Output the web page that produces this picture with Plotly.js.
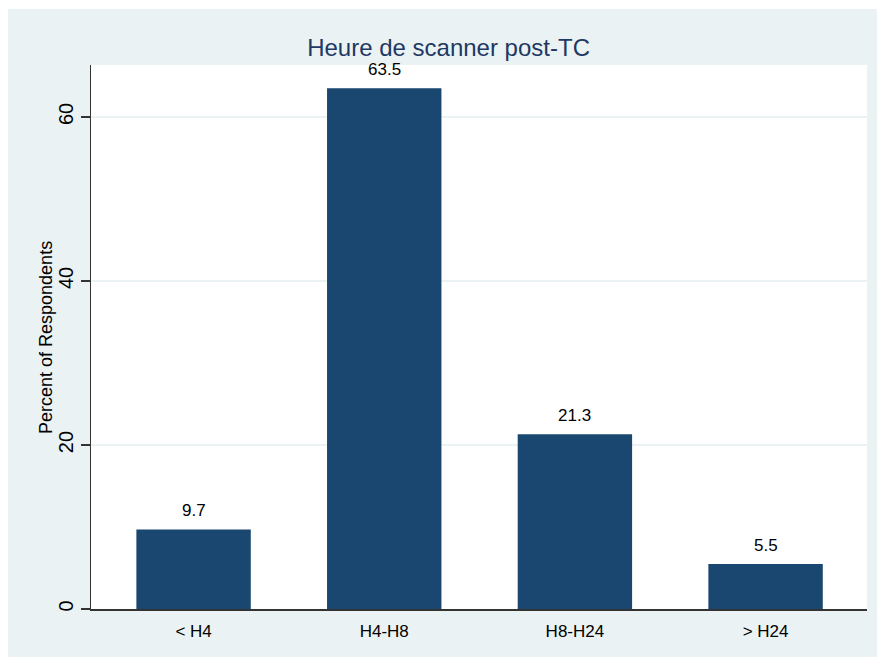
<!DOCTYPE html>
<html>
<head>
<meta charset="utf-8">
<script src="https://cdn.plot.ly/plotly-3.0.1.min.js"></script>
<style>
html, body { margin: 0; padding: 0; background: #ffffff; overflow: hidden; }
#chart { position: absolute; left: 8px; top: 9px; width: 869px; height: 648px; }
</style>
</head>
<body>
<div id="chart"></div>
<script>
const categories = ["< H4", "H4-H8", "H8-H24", "> H24"];
const percents = [9.7, 63.5, 21.3, 5.5];
const valueLabels = ["9.7", "63.5", "21.3", "5.5"];
const yTickValues = [0, 20, 40, 60];

const bg = "#EAF2F3";
const barColor = "#1A476F";
const fontFam = "Liberation Sans, Arial, sans-serif";

const trace = {
  type: "bar",
  x: categories,
  y: percents,
  width: 0.6,
  marker: { color: barColor, line: { color: barColor, width: 0 } },
  hoverinfo: "x+y"
};

const annotations = categories.map((c, i) => ({
  x: c, y: percents[i], xref: "x", yref: "y",
  text: valueLabels[i], showarrow: false,
  yanchor: "bottom", yshift: 7,
  font: { family: fontFam, size: 17, color: "#000000" }
}));

annotations.push({
  xref: "paper", yref: "paper", x: -0.058, y: 0.5,
  xanchor: "center", yanchor: "middle",
  text: "Percent of Respondents", textangle: -90, showarrow: false,
  font: { family: fontFam, size: 18, color: "#000000" }
});

const layout = {
  width: 869, height: 648,
  paper_bgcolor: bg,
  plot_bgcolor: "#ffffff",
  margin: { l: 83, r: 10, t: 56, b: 48, pad: 0 },
  showlegend: false,
  title: {
    text: "Heure de scanner post-TC",
    font: { family: fontFam, size: 24, color: "#1F3864" },
    xref: "container", x: 0.507, xanchor: "center",
    yref: "container", y: 0.941, yanchor: "middle"
  },
  xaxis: {
    type: "category",
    range: [-0.538, 3.532],
    showgrid: false,
    showline: true, linecolor: "#333333", linewidth: 1.5,
    ticks: "",
    tickfont: { family: fontFam, size: 17, color: "#000000" },
    ticklabelstandoff: 6,
    zeroline: false
  },
  yaxis: {
    range: [0, 66.34],
    tickvals: yTickValues,
    ticktext: yTickValues.map(String),
    tickangle: -90,
    ticks: "outside", ticklen: 9, tickwidth: 1.2, tickcolor: "#333333",
    showline: true, linecolor: "#333333", linewidth: 1.5,
    showgrid: true, gridcolor: bg, gridwidth: 1.5,
    zeroline: false,
    tickfont: { family: fontFam, size: 20, color: "#000000" }
  },
  annotations: annotations
};

Plotly.newPlot("chart", [trace], layout, { displayModeBar: false, staticPlot: true });
</script>
</body>
</html>
